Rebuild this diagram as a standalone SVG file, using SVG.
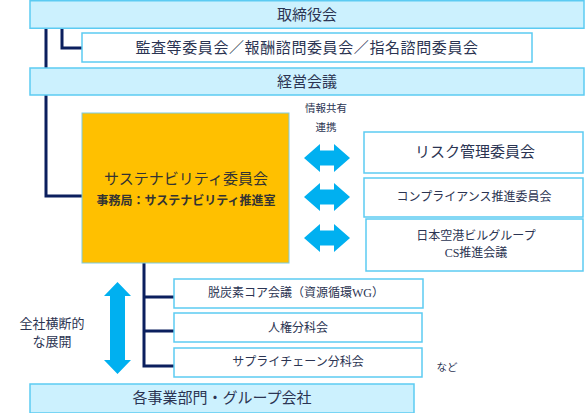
<svg xmlns="http://www.w3.org/2000/svg" width="585" height="413" viewBox="0 0 585 413">
<style>
text{font-family:"Liberation Serif","Noto Sans CJK JP",serif;fill:#2b3452;text-anchor:middle;dominant-baseline:central}
.band{fill:#ccf1fe;stroke:#5ccbf2;stroke-width:1.5}
.box{fill:#ffffff;stroke:#5ccbf2;stroke-width:1.5}
.orange{fill:#ffc000;stroke:#7fcbe0;stroke-width:1}
.line{fill:none;stroke:#0b1f5e;stroke-width:3}
.arrow{fill:#00b0f0}
.t15{font-size:15px}
.t12{font-size:12px}
.t10{font-size:10.5px}
</style>
<defs>
<path id="harr" d="M0,0 L16,-14 L16,-7.5 L30,-7.5 L30,-14 L46,0 L30,14 L30,7.5 L16,7.5 L16,14 Z"/>
</defs>
<g id="connectors">
<path class="line" d="M46,28 V196 H82"/>
<path class="line" d="M62,28 V48 H82"/>
<path class="line" d="M144,263 V366 H174 M144,297 H174 M144,331 H174"/>
<use href="#harr" class="arrow" x="304" y="158"/>
<use href="#harr" class="arrow" x="304" y="197"/>
<use href="#harr" class="arrow" x="304" y="238"/>
<path class="arrow" d="M117.5,282 L131,296 L125,296 L125,360 L131,360 L117.5,374 L104,360 L110,360 L110,296 L104,296 Z"/>
</g>
<g id="board"><rect class="band" x="30" y="0.75" width="554" height="27.5"/><text class="t15" x="307" y="15">取締役会</text></g>
<g id="committees"><rect class="box" x="82" y="33" width="450" height="29"/><text class="t15" x="307" y="48" letter-spacing="0.6">監査等委員会／報酬諮問委員会／指名諮問委員会</text></g>
<g id="management"><rect class="band" x="30" y="68" width="554" height="27"/><text class="t15" x="307" y="82">経営会議</text></g>
<g id="sustainability"><rect class="orange" x="82" y="113" width="207" height="150"/><text class="t15" x="186" y="179" style="fill:#333">サステナビリティ委員会</text><text class="t12" x="186" y="201" font-weight="bold" style="fill:#333">事務局：サステナビリティ推進室</text></g>
<g id="label-info"><text class="t10" x="326" y="108">情報共有</text><text class="t10" x="326" y="127">連携</text></g>
<g id="risk"><rect class="box" x="364" y="132" width="219" height="41"/><text class="t15" x="475" y="152">リスク管理委員会</text></g>
<g id="compliance"><rect class="box" x="364" y="178" width="219" height="39"/><text class="t12" x="474" y="197">コンプライアンス推進委員会</text></g>
<g id="cs"><rect class="box" x="366" y="219" width="217" height="52"/><text class="t12" x="476" y="236">日本空港ビルグループ</text><text class="t12" x="476" y="253">CS推進会議</text></g>
<g id="decarbon"><rect class="box" x="174" y="279" width="249" height="29"/><text class="t12" x="296" y="293">脱炭素コア会議（資源循環WG）</text></g>
<g id="humanrights"><rect class="box" x="174" y="313" width="248" height="29"/><text class="t12" x="298" y="328">人権分科会</text></g>
<g id="supplychain"><rect class="box" x="174" y="348" width="248" height="29"/><text class="t12" x="298" y="362">サプライチェーン分科会</text></g>
<g id="label-nado"><text class="t10" x="447" y="367">など</text></g>
<g id="label-crosswide"><text x="52" y="323" font-size="13">全社横断的</text><text x="52" y="341" font-size="13">な展開</text></g>
<g id="divisions"><rect class="band" x="30" y="384" width="384" height="29"/><text class="t15" x="222" y="398">各事業部門・グループ会社</text></g>
</svg>
